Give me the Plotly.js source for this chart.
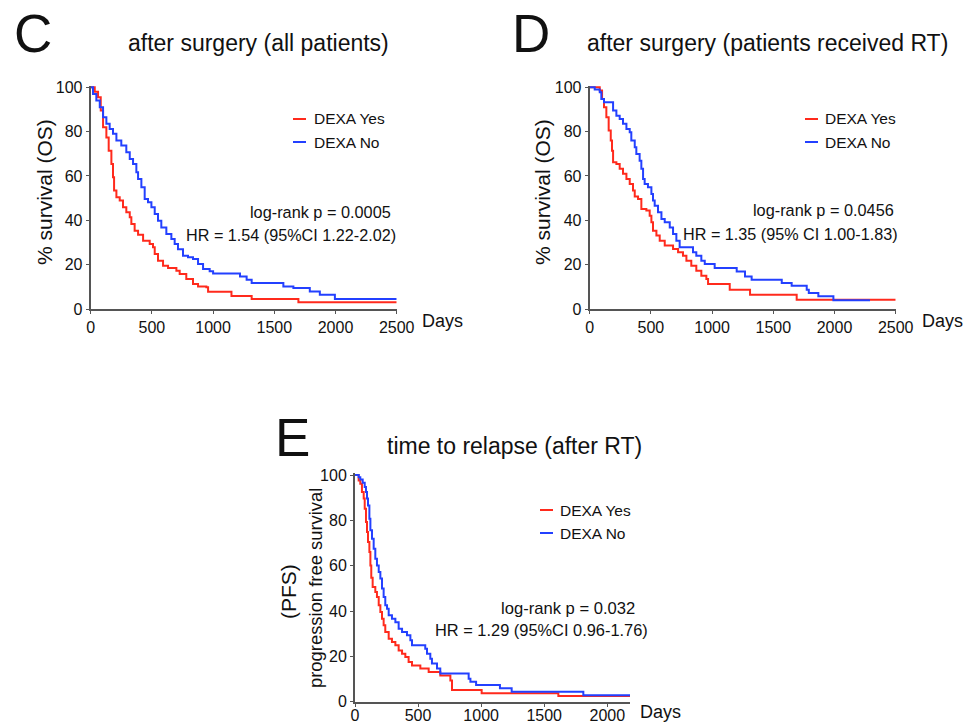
<!DOCTYPE html>
<html>
<head>
<meta charset="utf-8">
<script src="https://cdn.plot.ly/plotly-3.0.1.min.js"></script>
<style>html,body{margin:0;padding:0;background:#fff;}#chart{width:966px;height:722px;}</style>
</head>
<body>
<div id="chart"></div>
<script>
// ---- Data ----
// Panel C: after surgery (all patients), OS
var cYesDays = [0,33,60,82,101,128,147,169,182,191,210,237,264,291,319,332,359,387,428,482,509,523,550,591,632,700,727,781,836,877,945,959,1150,1315,1697,2500];
var cYesSurv = [100,98,95.5,89.5,82,77.4,71.4,65.4,59.4,53.4,50.4,48.9,45.9,43.6,41.4,38.3,35.3,33.5,30.8,29.3,27.8,24.8,21.8,19.5,18.5,17.3,15.8,13.5,11.3,10.2,9.8,7.8,5.9,4.5,3.0,3.0];
var cNoDays = [0,19,46,74,101,128,155,182,210,250,291,319,346,373,387,414,441,468,496,523,550,577,618,659,686,713,754,795,836,877,918,972,1000,1220,1274,1315,1574,1656,1790,1872,1995,2500];
var cNoSurv = [100,97,94,91,86.5,83.5,81.2,79,76,73.7,70.7,67.7,65.4,61.7,58.6,54.9,49.6,48.1,45.9,42.9,39.8,36.8,33.8,31.6,29.3,27,24,23.3,22.6,20.3,18,17,16,14.7,13.2,11.7,10.2,9.5,7.9,6.4,4.5,4.5];

// Panel D: after surgery (patients received RT), OS
var dYesDays = [0,68,82,101,117,136,155,172,182,191,218,245,272,300,327,354,368,395,422,463,490,504,517,545,572,613,681,722,762,790,830,871,912,953,967,1144,1310,1691,2500];
var dYesSurv = [100,100,98.5,94.7,91,86.5,80.5,76,71.4,66.2,65.4,63.2,61,58.6,56.4,53.4,50.7,49.6,45.1,44.4,42.1,39.1,35.3,33.1,30.8,28.6,27.1,25.6,24,21.8,19.5,17.3,15,13.5,11.3,8.7,6.4,4.2,4.2];
var dNoDays = [0,41,82,95,117,191,218,245,272,300,327,340,368,381,408,422,436,449,476,504,517,531,558,586,613,654,681,708,735,844,871,912,940,1021,1201,1269,1323,1569,1650,1773,1790,1868,1991,2290];
var dNoSurv = [100,99,97.7,94.7,93.2,89.5,87.2,85.7,83.5,81.2,79.7,76,72.9,69.9,66.9,63.2,58.6,56.4,54.9,51.9,48.9,46.6,43.6,40.6,39.1,36.8,33.8,30.8,27.8,25.6,24,21.8,20.3,18.5,16.9,14.7,13.2,11.7,10.5,8.7,7.2,5.7,3.9,3.9];

// Panel E: time to relapse (after RT), PFS
var eYesDays = [0,29,42,55,69,77,87,95,103,114,122,129,140,161,174,188,201,214,227,240,267,293,320,346,373,399,425,452,518,584,676,756,769,1004,1612,2180];
var eYesSurv = [100,97.6,96.2,92.5,89.6,85.1,79.3,74.9,70.4,66,60.1,54.7,50.6,48.4,46.2,42.5,39.6,36.6,33.7,30.7,27.8,26.3,24.9,22.6,21.2,19.7,17.5,16,14.6,13.1,11.6,9.4,5.2,3.7,2.5,2.5];
var eNoDays = [0,29,42,61,77,87,95,103,114,122,135,148,161,174,188,201,214,227,240,254,267,293,320,346,373,412,439,452,557,571,597,610,650,676,901,915,960,1149,1242,1810,2180];
var eNoSurv = [100,99,98,96.6,94.7,92.5,89.6,86.6,80.7,75.6,71.9,67.5,63.1,60.1,57.2,54.3,49.9,46.2,42.5,41,38.1,36.6,35.1,32.2,30.7,29.3,27.1,24.9,23.4,21.2,19,16.8,14.6,12.4,10.1,8.8,7.4,5.9,4.4,2.9,2.9];

var seriesNames = ['DEXA Yes','DEXA No'];
var xTicksOS = [0,500,1000,1500,2000,2500];
var xTicksPFS = [0,500,1000,1500,2000];
var yTicks = [0,20,40,60,80,100];

// ---- Styling ----
var RED = '#ff2a1c', BLUE = '#2340ff';
var FONT = 'Liberation Sans, Arial, Helvetica, sans-serif';
var W = 966, H = 722;
function px(x){return x / W;}
function py(y){return 1 - y / H;}

function km(x, y, color, name, xa, ya){
  return {x:x, y:y, type:'scatter', mode:'lines', line:{shape:'hv', color:color, width:2},
          name:name, xaxis:xa, yaxis:ya, hoverinfo:'x+y+name'};
}

var traces = [
  km(cYesDays, cYesSurv, RED, seriesNames[0], 'x', 'y'),
  km(cNoDays, cNoSurv, BLUE, seriesNames[1], 'x', 'y'),
  km(dYesDays, dYesSurv, RED, seriesNames[0], 'x2', 'y2'),
  km(dNoDays, dNoSurv, BLUE, seriesNames[1], 'x2', 'y2'),
  km(eYesDays, eYesSurv, RED, seriesNames[0], 'x3', 'y3'),
  km(eNoDays, eNoSurv, BLUE, seriesNames[1], 'x3', 'y3')
];

function xax(dom, range, ticks, anchor, standoff){
  return {domain:dom, range:range, anchor:anchor, tickmode:'array', tickvals:ticks,
    showline:true, linecolor:'#555', linewidth:2, ticks:'outside', ticklen:3, tickcolor:'#555', tickwidth:1,
    ticklabelstandoff: standoff || 0,
    showgrid:false, zeroline:false, tickfont:{family:FONT, size:16, color:'#111'}, fixedrange:true};
}
function yax(dom, anchor){
  return {domain:dom, range:[0,100.8], anchor:anchor, tickmode:'array', tickvals:yTicks,
    showline:true, linecolor:'#555', linewidth:2, ticks:'outside', ticklen:3, tickcolor:'#555', tickwidth:1,
    showgrid:false, zeroline:false, tickfont:{family:FONT, size:16, color:'#111'}, fixedrange:true};
}

var yDomTop = [py(309), py(85.5)];
var yDomBot = [py(701.7), py(473.2)];

function txt(text, x, y, size, xanchor, extra){
  var a = {text:text, x:px(x), y:py(y), xref:'paper', yref:'paper', showarrow:false,
           xanchor:xanchor || 'center', yanchor:'middle', font:{family:FONT, size:size, color:'#111'}};
  if (extra) for (var k in extra) a[k] = extra[k];
  return a;
}

var annotations = [
  // panel letters
  txt('C', 33, 34, 53), txt('D', 531, 34, 53), txt('E', 292, 437, 53),
  // titles
  txt('after surgery (all patients)', 258, 43, 23),
  txt('after surgery (patients received RT)', 767, 43, 23),
  txt('time to relapse (after RT)', 514, 446, 23),
  // axis titles
  txt('% survival (OS)', 44, 192, 21, 'center', {textangle:-90}),
  txt('% survival (OS)', 542, 192, 21, 'center', {textangle:-90}),
  txt('(PFS)', 288, 592, 21, 'center', {textangle:-90}),
  txt('progression free survival', 315, 588, 18.4, 'center', {textangle:-90}),
  txt('Days', 420, 321, 18, 'left'),
  txt('Days', 920, 321, 18, 'left'),
  txt('Days', 638, 712, 18, 'left'),
  // legends
  txt(seriesNames[0], 312, 119, 15.5, 'left'), txt(seriesNames[1], 312, 142, 15.5, 'left'),
  txt(seriesNames[0], 823, 119, 15.5, 'left'), txt(seriesNames[1], 823, 142, 15.5, 'left'),
  txt(seriesNames[0], 558, 510, 15.5, 'left'), txt(seriesNames[1], 558, 533, 15.5, 'left'),
  // stats
  txt('log-rank p = 0.0005', 393, 212, 16.3, 'right'),
  txt('HR = 1.54 (95%CI 1.22-2.02)', 398, 235, 16.2, 'right'),
  txt('log-rank p = 0.0456', 896, 210, 16.3, 'right'),
  txt('HR = 1.35 (95% CI 1.00-1.83)', 900, 234, 16.2, 'right'),
  txt('log-rank p = 0.032', 637, 608, 16.6, 'right'),
  txt('HR = 1.29 (95%CI 0.96-1.76)', 650, 630, 16.4, 'right')
];

function legLine(x0, x1, y, color){
  return {type:'line', xref:'paper', yref:'paper', x0:px(x0), x1:px(x1), y0:py(y), y1:py(y),
          line:{color:color, width:2}};
}
var shapes = [
  legLine(293, 306, 119, RED), legLine(293, 306, 142, BLUE),
  legLine(805, 818, 119, RED), legLine(805, 818, 142, BLUE),
  legLine(540, 553, 510, RED), legLine(540, 553, 533, BLUE)
];

var layout = {
  width:W, height:H, margin:{l:0, r:0, t:0, b:0},
  paper_bgcolor:'#fff', plot_bgcolor:'#fff', showlegend:false,
  font:{family:FONT, color:'#111'},
  xaxis: xax([px(90.7), px(396.7)], [0,2500], xTicksOS, 'y'),
  yaxis: yax(yDomTop, 'x'),
  xaxis2: xax([px(589.7), px(895.7)], [0,2500], xTicksOS, 'y2'),
  yaxis2: yax(yDomTop, 'x2'),
  xaxis3: xax([px(355), px(630)], [0,2180], xTicksPFS, 'y3', -5),
  yaxis3: yax(yDomBot, 'x3'),
  annotations: annotations,
  shapes: shapes
};

Plotly.newPlot('chart', traces, layout, {displayModeBar:false, staticPlot:true});
</script>
</body>
</html>
